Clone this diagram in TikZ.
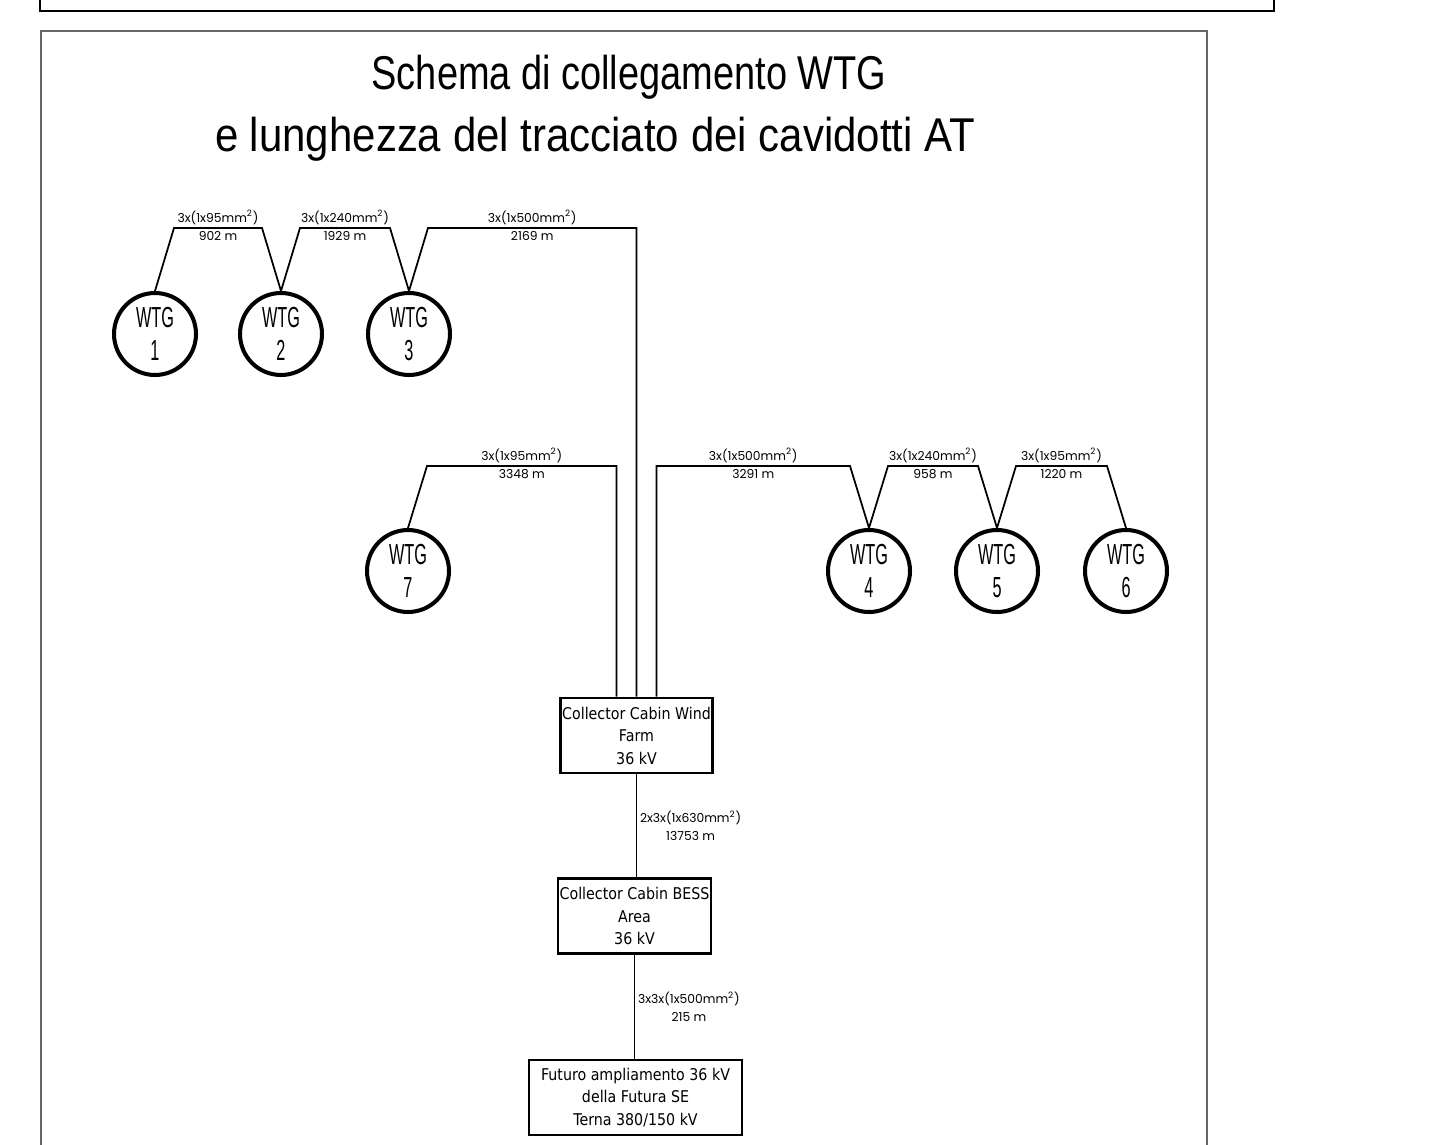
\documentclass[tikz,border=0pt]{standalone}
\usepackage{fontspec}
\setmainfont{Liberation Sans}
\newfontfamily\wtgfont{Liberation Sans}[FakeStretch=0.56]
\newfontfamily\cablefont{Poppins}
\newfontfamily\cabinfont{DejaVu Sans}[FakeStretch=0.88]
\usetikzlibrary{positioning}

\begin{document}
\begin{tikzpicture}[x=0.02cm, y=-0.02cm, line width=1pt,
    wtg/.style={draw, circle, line width=2.3pt, minimum size=1.64cm, inner sep=0pt,
        align=center, font=\wtgfont\fontsize{16.5}{19}\selectfont},
    cabin/.style={draw, rectangle, line width=1.6pt, minimum height=1.5cm, inner sep=0pt,
        align=center, font=\cabinfont\fontsize{9.2}{12.8}\selectfont},
    cable/.style={font=\cablefont\fontsize{7}{10.5}\selectfont, inner sep=1.5pt, align=center},
    title/.style={font=\fontsize{27}{32}\selectfont, anchor=base, inner sep=0pt}]
    \useasboundingbox (0,0) rectangle (1439,1145);

    % Frames
    \draw[line width=0.8pt] (40,-20) rectangle (1274,11);
    \draw[black!60, line width=1.4pt] (41,1170) -- (41,31) -- (1207,31) -- (1207,1170);

    % Title
    \node[title] (title1) at (629,90) {\scalebox{0.80}[1]{Schema di collegamento WTG}};
    \node[title] (title2) at (595,152) {\scalebox{0.885}[1]{e lunghezza del tracciato dei cavidotti AT}};

    % Nodes
    \node[wtg] (w1) at (155,334) {WTG\\1};
    \node[wtg] (w2) at (281,334) {WTG\\2};
    \node[wtg] (w3) at (409,334) {WTG\\3};
    \node[wtg] (w7) at (408,571) {WTG\\7};
    \node[wtg] (w4) at (869,571) {WTG\\4};
    \node[wtg] (w5) at (997,571) {WTG\\5};
    \node[wtg] (w6) at (1126,571) {WTG\\6};

    \node[cabin, minimum width=3.04cm] (cwf) at (636.5,735.5) {Collector Cabin Wind\\Farm\\36 kV};
    \node[cabin, minimum width=3.06cm] (cbe) at (634.5,916) {Collector Cabin BESS\\Area\\36 kV};
    \node[cabin, minimum width=4.26cm] (fut) at (635.5,1097.5) {Futuro ampliamento 36 kV\\della Futura SE\\Terna 380/150 kV};

    % Cables
    \draw (w1.north) -- ++(19,-63) -- ([shift={(-19,-63)}]w2.north)
        node[midway, above, cable] {3x(1x95mm\textsuperscript{2})}
        node[midway, below, cable] {902 m}
        -- (w2.north);
    \draw (w2.north) -- ++(19,-63) -- ([shift={(-19,-63)}]w3.north)
        node[midway, above, cable] {3x(1x240mm\textsuperscript{2})}
        node[midway, below, cable] {1929 m}
        -- (w3.north);
    \draw (w3.north) -- ++(19,-63) -| (cwf.north)
        node[pos=0.25, above, cable] {3x(1x500mm\textsuperscript{2})}
        node[pos=0.25, below, cable] {2169 m};
    \draw (w7.north) -- ++(19,-62) -| ([xshift=-0.4cm]cwf.north)
        node[pos=0.25, above, cable] {3x(1x95mm\textsuperscript{2})}
        node[pos=0.25, below, cable] {3348 m};
    \draw ([xshift=0.4cm]cwf.north) |- ([shift={(-19,-62)}]w4.north)
        node[pos=0.75, above, cable] {3x(1x500mm\textsuperscript{2})}
        node[pos=0.75, below, cable] {3291 m}
        -- (w4.north);
    \draw (w4.north) -- ++(19,-62) -- ([shift={(-19,-62)}]w5.north)
        node[midway, above, cable] {3x(1x240mm\textsuperscript{2})}
        node[midway, below, cable] {958 m}
        -- (w5.north);
    \draw (w5.north) -- ++(19,-62) -- ([shift={(-19,-62)}]w6.north)
        node[midway, above, cable] {3x(1x95mm\textsuperscript{2})}
        node[midway, below, cable] {1220 m}
        -- (w6.north);
    \draw (cwf.south) -- (cwf.south |- cbe.north)
        node[midway, right, cable] {2x3x(1x630mm\textsuperscript{2})\\13753 m};
    \draw (cbe.south) -- (cbe.south |- fut.north)
        node[midway, right, cable] {3x3x(1x500mm\textsuperscript{2})\\215 m};
\end{tikzpicture}
\end{document}
